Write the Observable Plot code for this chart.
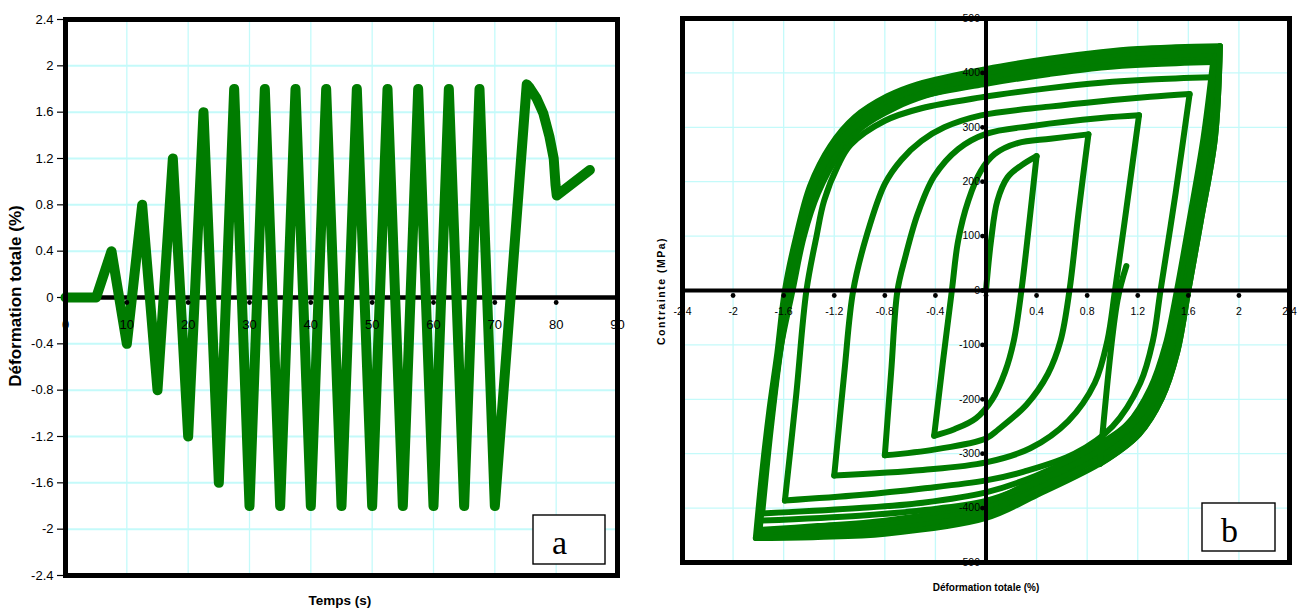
<!DOCTYPE html>
<html>
<head>
<meta charset="utf-8">
<script src="https://cdn.jsdelivr.net/npm/d3@7"></script>
<script src="https://cdn.jsdelivr.net/npm/@observablehq/plot@0.6"></script>
<style>
  html, body { margin: 0; padding: 0; background: #fff; }
  #wrap { position: relative; width: 1301px; height: 609px; overflow: hidden; background: #fff; }
  .panel { position: absolute; top: 0; }
  #overlay { position: absolute; left: 0; top: 0; pointer-events: none; }
</style>
</head>
<body>
<div id="wrap">
  <div id="pa" class="panel" style="left:0px"></div>
  <div id="pb" class="panel" style="left:650px"></div>
  <svg id="overlay" width="1301" height="609" xmlns="http://www.w3.org/2000/svg">
    <g font-family="Liberation Sans, Arial, sans-serif" font-weight="bold" fill="#000">
      <text transform="translate(17,296) rotate(-90)" text-anchor="middle" dominant-baseline="middle" font-size="17">Déformation totale (%)</text>
      <text x="340" y="601" text-anchor="middle" dominant-baseline="middle" font-size="13.5">Temps (s)</text>
      <text transform="translate(662,291) rotate(-90)" text-anchor="middle" dominant-baseline="middle" font-size="10.5" letter-spacing="1.5">Contrainte (MPa)</text>
      <text x="986" y="588" text-anchor="middle" dominant-baseline="middle" font-size="10">Déformation totale (%)</text>
    </g>
    <rect x="533" y="515" width="72" height="49" fill="#fff" stroke="#000" stroke-width="1.4"/>
    <text x="552" y="554" font-family="Liberation Serif, Times New Roman, serif" font-size="34" fill="#000">a</text>
    <rect x="1202" y="503" width="73" height="48" fill="#fff" stroke="#000" stroke-width="1.4"/>
    <text x="1221" y="542" font-family="Liberation Serif, Times New Roman, serif" font-size="34" fill="#000">b</text>
  </svg>
</div>
<script>
// ---------- Panel a : total strain (%) vs time (s) ----------
const timeS = [0, 5, 7.5, 10, 12.5, 15, 17.5, 20, 22.5, 25, 27.5, 30, 32.5, 35, 37.5, 40, 42.5, 45,
  47.5, 50, 52.5, 55, 57.5, 60, 62.5, 65, 67.5, 70, 75.2, 75.7, 76.8, 77.9, 78.9, 79.6, 79.9, 80.1, 85.5];
const strainPct = [0, 0, 0.4, -0.4, 0.8, -0.8, 1.2, -1.2, 1.6, -1.6, 1.8, -1.8, 1.8, -1.8, 1.8, -1.8, 1.8, -1.8,
  1.8, -1.8, 1.8, -1.8, 1.8, -1.8, 1.8, -1.8, 1.8, -1.8, 1.84, 1.81, 1.72, 1.59, 1.39, 1.2, 0.97, 0.88, 1.1];
const timeTicks = [0, 10, 20, 30, 40, 50, 60, 70, 80, 90];
const strainTicksA = [-2.4, -2, -1.6, -1.2, -0.8, -0.4, 0, 0.4, 0.8, 1.2, 1.6, 2, 2.4];

// ---------- Panel b : stress (MPa) vs total strain (%) ----------
// each branch: [strain %, stress MPa]
const load0   = [[0,0],[0.04,92],[0.09,165],[0.17,208],[0.28,230],[0.40,247]];
const unload1 = [[0.40,247],[0.34,120],[0.28,0],[0.22,-92],[0.15,-150],[0.05,-200],[-0.08,-235],[-0.25,-255],[-0.41,-267]];
const load2   = [[-0.41,-267],[-0.34,-130],[-0.27,0],[-0.22,92],[-0.14,165],[-0.04,220],[0.07,251],[0.25,271],[0.51,279],[0.81,287]];
const unload3 = [[0.81,287],[0.73,140],[0.66,0],[0.59,-92],[0.49,-153],[0.32,-210],[0.1,-255],[0,-272],[-0.4,-292],[-0.80,-303]];
const load4   = [[-0.80,-303],[-0.75,-150],[-0.70,0],[-0.64,60],[-0.54,141],[-0.41,210],[-0.22,260],[0,288],[0.38,303],[0.91,317],[1.21,322]];
const unload5 = [[1.21,322],[1.11,150],[1.02,0],[0.96,-92],[0.86,-170],[0.65,-240],[0.35,-290],[0,-316],[-0.5,-330],[-1.20,-340]];
const load6   = [[-1.20,-340],[-1.12,-150],[-1.05,0],[-0.94,104],[-0.80,196],[-0.67,240],[-0.51,275],[-0.33,300],[-0.04,322],[0.5,338],[0.91,348],[1.3,356],[1.61,361]];
const unload7 = [[1.61,361],[1.50,180],[1.38,0],[1.32,-92],[1.22,-170],[1.00,-250],[0.70,-300],[0.30,-333],[0,-349],[-0.5,-364],[-1.0,-376],[-1.59,-386]];
const load8   = [[-1.59,-386],[-1.50,-190],[-1.42,0],[-1.34,100],[-1.28,165],[-1.17,230],[-1.07,268],[-0.80,312],[-0.51,335],[-0.04,355],[0.5,372],[0.91,382],[1.3,388],[1.79,392]];
const unload9 = [[1.79,392],[1.70,200],[1.60,40],[1.52,-40],[1.42,-120],[1.30,-190],[1.10,-250],[0.80,-295],[0.40,-340],[0,-371],[-0.5,-390],[-1.0,-400],[-1.77,-410]];
const load10  = [[-1.77,-410],[-1.70,-250],[-1.62,-100],[-1.55,0],[-1.45,130],[-1.30,225],[-1.07,295],[-0.80,335],[-0.50,358],[0,380],[0.5,398],[0.91,410],[1.3,416],[1.80,420]];
const unload11= [[1.80,420],[1.72,220],[1.62,40],[1.54,-40],[1.44,-120],[1.32,-195],[1.12,-255],[0.84,-302],[0.40,-352],[0,-387],[-0.5,-404],[-1.0,-414],[-1.77,-423]];
// stabilised +/-1.8 % cycles (thick band)
const satLoadA = [[-1.79,-440],[-1.74,-320],[-1.68,-200],[-1.62,-100],[-1.53,0],[-1.44,100],[-1.33,178],[-1.17,248],[-0.98,300],[-0.72,336],[-0.48,358],[0,386],[0.5,405],[0.91,417],[1.2,423],[1.5,426],[1.80,428]];
const satLoadB = [[-1.80,-445],[-1.75,-325],[-1.69,-205],[-1.63,-105],[-1.55,0],[-1.46,100],[-1.35,183],[-1.19,254],[-1.00,306],[-0.74,343],[-0.50,365],[0,393],[0.5,412],[0.91,424],[1.2,430],[1.5,433],[1.82,435]];
const satLoadC = [[-1.81,-450],[-1.76,-330],[-1.70,-210],[-1.64,-110],[-1.57,0],[-1.48,100],[-1.37,188],[-1.21,260],[-1.02,312],[-0.76,350],[-0.52,372],[0,400],[0.5,419],[0.91,431],[1.2,437],[1.5,440],[1.83,442]];
const satLoadD = [[-1.82,-455],[-1.77,-335],[-1.71,-215],[-1.65,-115],[-1.59,0],[-1.50,100],[-1.39,193],[-1.23,266],[-1.04,318],[-0.78,357],[-0.54,379],[0,407],[0.5,426],[0.91,438],[1.2,444],[1.5,447],[1.85,449]];
const satUnloadA = [[1.80,428],[1.72,280],[1.61,130],[1.51,0],[1.42,-100],[1.30,-180],[1.12,-246],[0.85,-293],[0.40,-346],[0,-391],[-0.80,-423],[-1.33,-433],[-1.79,-440]];
const satUnloadB = [[1.82,435],[1.75,280],[1.64,130],[1.54,0],[1.45,-105],[1.33,-186],[1.15,-252],[0.88,-300],[0.40,-356],[0,-400],[-0.80,-431],[-1.33,-440],[-1.80,-445]];
const satUnloadC = [[1.83,442],[1.78,280],[1.67,130],[1.57,0],[1.48,-110],[1.36,-192],[1.18,-258],[0.90,-307],[0.40,-366],[0,-409],[-0.80,-439],[-1.33,-447],[-1.81,-450]];
const satUnloadD = [[1.85,449],[1.81,280],[1.70,130],[1.60,0],[1.51,-115],[1.39,-198],[1.21,-264],[0.93,-314],[0.40,-376],[0,-418],[-0.80,-447],[-1.33,-453],[-1.82,-455]];
// final partial unloading and reloading
const finalUnload = [[1.85,449],[1.81,280],[1.70,130],[1.60,0],[1.51,-115],[1.39,-198],[1.21,-264],[0.90,-319]];
const finalReload = [[0.90,-319],[1.04,-18],[1.11,45]];

const strainTicksB = [-2.4, -2, -1.6, -1.2, -0.8, -0.4, 0.4, 0.8, 1.2, 1.6, 2, 2.4];
const stressTicks = [-500, -400, -300, -200, -100, 0, 100, 200, 300, 400, 500];
const gridStrainB = [-2.4, -2, -1.6, -1.2, -0.8, -0.4, 0, 0.4, 0.8, 1.2, 1.6, 2, 2.4];

const GREEN = "#007c00";
const GRID = "#c4fafa";
const FONT = "Liberation Sans, Arial, sans-serif";

// ---------- draw panel a ----------
const seriesA = timeS.map((t, i) => ({t, e: strainPct[i]}));
const plotA = Plot.plot({
  width: 650, height: 609,
  marginLeft: 65, marginRight: 33, marginTop: 19, marginBottom: 34,
  x: {domain: [0, 90], axis: null},
  y: {domain: [-2.4, 2.4]},
  style: {fontFamily: FONT, fontSize: "13px", color: "#000", background: "transparent", overflow: "visible"},
  marks: [
    Plot.gridX(timeTicks, {stroke: GRID, strokeOpacity: 1, strokeWidth: 1.3}),
    Plot.gridY(strainTicksA, {stroke: GRID, strokeOpacity: 1, strokeWidth: 2}),
    Plot.axisY(strainTicksA, {tickSize: 8, tickPadding: 4, tickFormat: d => String(d), label: null, fontSize: 13, strokeWidth: 1.2}),
    Plot.ruleY([0], {stroke: "#000", strokeWidth: 4.5}),
    Plot.line(seriesA, {x: "t", y: "e", stroke: GREEN, strokeWidth: 10,
      strokeLinejoin: "round", strokeLinecap: "round"}),
    Plot.dot(timeTicks, {x: d => d, y: 0, dy: 5, r: 2.4, fill: "#000", stroke: null}),
    Plot.text(timeTicks, {x: d => d, y: 0, dy: 27, text: d => String(d), fontSize: 13}),
    Plot.frame({stroke: "#000", strokeWidth: 5})
  ]
});
document.getElementById("pa").appendChild(plotA);

// ---------- draw panel b ----------
const thinBranches = [load0, unload1, load2, unload3, load4, unload5, load6, unload7, load8, unload9, load10, unload11, finalReload];
const satBranches = [satLoadA, satUnloadA, satLoadB, satUnloadB, satLoadC, satUnloadC, satLoadD, satUnloadD, finalUnload];
const toRows = list => list.flatMap((b, k) => b.map(([e, s]) => ({e, s, k})));
const thinRows = toRows(thinBranches);
const satRows = toRows(satBranches);

const plotB = Plot.plot({
  width: 651, height: 609,
  marginLeft: 32, marginRight: 12, marginTop: 18, marginBottom: 47,
  x: {domain: [-2.4, 2.4], axis: null},
  y: {domain: [-500, 500], axis: null},
  style: {fontFamily: FONT, fontSize: "10.5px", color: "#000", background: "transparent", overflow: "visible"},
  marks: [
    Plot.gridX(gridStrainB, {stroke: GRID, strokeOpacity: 1, strokeWidth: 1.3}),
    Plot.gridY(stressTicks, {stroke: GRID, strokeOpacity: 1, strokeWidth: 1.3}),
    Plot.line(satRows, {x: "e", y: "s", z: "k", curve: "catmull-rom", stroke: GREEN, strokeWidth: 6,
      strokeLinejoin: "round", strokeLinecap: "round"}),
    Plot.line(thinRows, {x: "e", y: "s", z: "k", curve: "catmull-rom", stroke: GREEN, strokeWidth: 6,
      strokeLinejoin: "round", strokeLinecap: "round"}),
    Plot.ruleX([0], {stroke: "#000", strokeWidth: 4}),
    Plot.ruleY([0], {stroke: "#000", strokeWidth: 4}),
    Plot.dot(gridStrainB, {x: d => d, y: 0, dy: 5, r: 2.4, fill: "#000", stroke: null}),
    Plot.dot(stressTicks, {x: 0, y: d => d, dx: -3.5, r: 2.4, fill: "#000", stroke: null}),
    Plot.text(strainTicksB, {x: d => d, y: 0, dy: 21, text: d => String(d), fontSize: 10.5}),
    Plot.text(stressTicks, {x: 0, y: d => d, dx: -6, textAnchor: "end", text: d => String(d), fontSize: 10.5}),
    Plot.frame({stroke: "#000", strokeWidth: 5})
  ]
});
document.getElementById("pb").appendChild(plotB);
</script>
</body>
</html>
